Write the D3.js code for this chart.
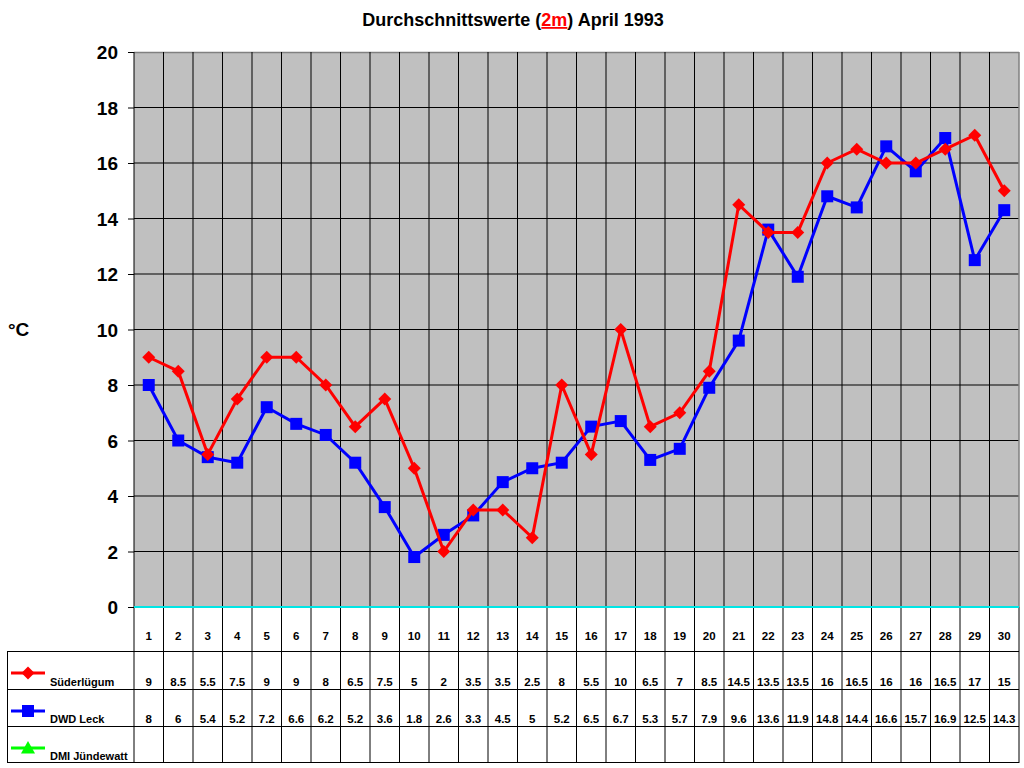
<!DOCTYPE html>
<html><head><meta charset="utf-8">
<script src="https://cdn.jsdelivr.net/npm/d3@7"></script>
<style>body{margin:0;background:#fff}svg{display:block;font-family:Arial,"Liberation Sans",sans-serif;font-weight:bold}</style>
</head><body>
<script>
const days = d3.range(1,31);
const seriesNames = ["Süderlügum","DWD Leck","DMI Jündewatt"];
const seriesColors = ["#ff0000","#0000ff","#00ff00"];
const suederluegum = [9,8.5,5.5,7.5,9,9,8,6.5,7.5,5,2,3.5,3.5,2.5,8,5.5,10,6.5,7,8.5,14.5,13.5,13.5,16,16.5,16,16,16.5,17,15];
const dwdLeck = [8,6,5.4,5.2,7.2,6.6,6.2,5.2,3.6,1.8,2.6,3.3,4.5,5,5.2,6.5,6.7,5.3,5.7,7.9,9.6,13.6,11.9,14.8,14.4,16.6,15.7,16.9,12.5,14.3];
const dmiJuendewatt = [];
const yTicks = [0,2,4,6,8,10,12,14,16,18,20];

const W=1024,H=768;
const L=134,R=1019,T=52,B=607;
const svg=d3.select("body").append("svg").attr("width",W).attr("height",H);
const x=d3.scaleBand().domain(days).range([L,R]);
const y=d3.scaleLinear().domain([0,20]).range([B,T]);

svg.append("rect").attr("x",L).attr("y",T).attr("width",R-L).attr("height",B-T).attr("fill","#c0c0c0");
svg.append("g").selectAll("line").data(yTicks.filter(t=>t>0&&t<20)).join("line")
  .attr("x1",L).attr("x2",R).attr("y1",d=>y(d)).attr("y2",d=>y(d)).attr("stroke","#000").attr("stroke-width",1);
svg.append("line").attr("x1",L).attr("x2",R).attr("y1",T+0.5).attr("y2",T+0.5).attr("stroke","#808080").attr("stroke-width",1.5);
svg.append("g").selectAll("line").data(days.slice(1)).join("line")
  .attr("x1",d=>x(d)).attr("x2",d=>x(d)).attr("y1",T).attr("y2",763).attr("stroke","#000").attr("stroke-width",1);
svg.append("line").attr("x1",R).attr("x2",R).attr("y1",T).attr("y2",B).attr("stroke","#808080").attr("stroke-width",1.5);
svg.append("line").attr("x1",R).attr("x2",R).attr("y1",B).attr("y2",763).attr("stroke","#000").attr("stroke-width",1);
svg.append("line").attr("x1",L).attr("x2",L).attr("y1",T).attr("y2",763).attr("stroke","#000").attr("stroke-width",1);

const ya=d3.axisLeft(y).tickValues(yTicks).tickSize(6).tickPadding(10).tickSizeOuter(0);
const gy=svg.append("g").attr("transform",`translate(${L},0)`).call(ya);
gy.select(".domain").remove();
gy.selectAll(".tick line").attr("stroke","#000");
gy.selectAll(".tick text").attr("font-size",19).attr("font-weight","bold").attr("font-family","Arial,'Liberation Sans',sans-serif").attr("fill","#000").attr("dy","0.36em");

svg.append("text").attr("x",8).attr("y",336).attr("font-size",19).text("°C");

const title=svg.append("text").attr("x",513).attr("y",26).attr("text-anchor","middle").attr("font-size",18);
title.append("tspan").text("Durchschnittswerte (");
title.append("tspan").attr("fill","#ff0000").attr("text-decoration","underline").text("2m");
title.append("tspan").text(") April 1993");

const rowLines=[651,689,726,762];
svg.append("g").selectAll("line").data(rowLines).join("line")
  .attr("x1",7).attr("x2",R).attr("y1",d=>d+0.5).attr("y2",d=>d+0.5).attr("stroke","#000");
svg.append("line").attr("x1",7.5).attr("x2",7.5).attr("y1",651).attr("y2",763).attr("stroke","#000");

svg.append("g").selectAll("text").data(days).join("text")
  .attr("x",d=>x(d)+x.bandwidth()/2).attr("y",640).attr("text-anchor","middle").attr("font-size",11.5).text(d=>d);

const allSeries=[suederluegum,dwdLeck,dmiJuendewatt];
const rowBase=[686,723,760];
const symY=[673,711,748];
allSeries.forEach((s,i)=>{
  svg.append("g").selectAll("text").data(s).join("text")
    .attr("x",(d,j)=>x(days[j])+x.bandwidth()/2).attr("y",rowBase[i]).attr("text-anchor","middle").attr("font-size",11.5).text(d=>d);
  svg.append("text").attr("x",50).attr("y",rowBase[i]).attr("font-size",11).text(seriesNames[i]);
  svg.append("line").attr("x1",11).attr("x2",45).attr("y1",symY[i]).attr("y2",symY[i]).attr("stroke",seriesColors[i]).attr("stroke-width",3);
});

const diamond=(cx,cy,r)=>`M${cx},${cy-r}L${cx+r},${cy}L${cx},${cy+r}L${cx-r},${cy}Z`;
const tri=(cx,cy,r)=>`M${cx},${cy-r}L${cx+r},${cy+r*0.8}L${cx-r},${cy+r*0.8}Z`;
svg.append("path").attr("d",diamond(28,symY[0],6.5)).attr("fill",seriesColors[0]);
svg.append("rect").attr("x",22).attr("y",symY[1]-6).attr("width",12).attr("height",12).attr("fill",seriesColors[1]);
svg.append("path").attr("d",tri(28,symY[2],7)).attr("fill",seriesColors[2]);

svg.append("line").attr("x1",L).attr("x2",R).attr("y1",B).attr("y2",B).attr("stroke","#00e5e5").attr("stroke-width",2);

const line=d3.line().x((d,j)=>x(days[j])+x.bandwidth()/2).y(d=>y(d));
const cx=j=>x(days[j])+x.bandwidth()/2;
svg.append("path").attr("d",line(dwdLeck)).attr("fill","none").attr("stroke",seriesColors[1]).attr("stroke-width",3);
svg.append("g").selectAll("rect").data(dwdLeck).join("rect")
  .attr("x",(d,j)=>cx(j)-6).attr("y",d=>y(d)-6).attr("width",12).attr("height",12).attr("fill",seriesColors[1]);
svg.append("path").attr("d",line(suederluegum)).attr("fill","none").attr("stroke",seriesColors[0]).attr("stroke-width",3);
svg.append("g").selectAll("path").data(suederluegum).join("path")
  .attr("d",(d,j)=>diamond(cx(j),y(d),6.5)).attr("fill",seriesColors[0]);
</script>
</body></html>
